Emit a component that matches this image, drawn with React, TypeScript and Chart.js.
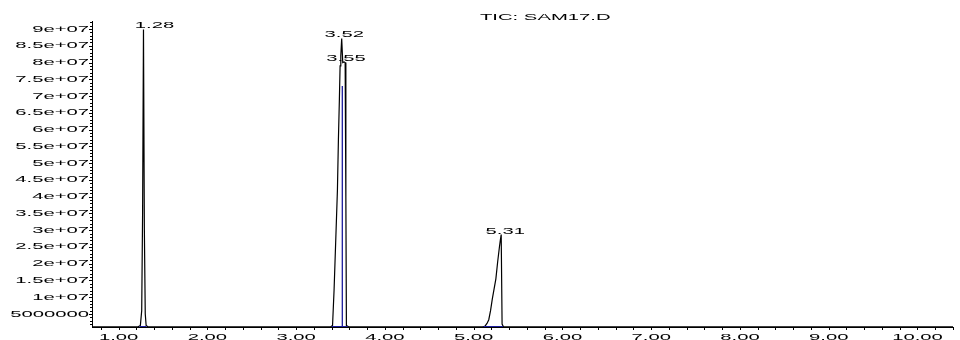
import React, { useEffect, useRef } from "react";
import { Chart, registerables } from "chart.js";

Chart.register(...registerables);

// ---- data ----
const rtMinutes = [0.7, 1.22, 1.245, 1.26, 1.27, 1.28, 1.29, 1.3, 1.31, 1.33, 3.39, 3.41, 3.427, 3.446, 3.465, 3.476, 3.487, 3.495, 3.503, 3.513, 3.525, 3.54, 3.552, 3.56, 3.566, 3.59, 5.1, 5.125, 5.15, 5.17, 5.19, 5.21, 5.23, 5.25, 5.27, 5.29, 5.3, 5.31, 5.32, 5.335, 10.4];
const abundance = [1.2e6, 1.2e6, 1.6e6, 6e6, 3.5e7, 8.99e7, 3.0e7, 5e6, 1.6e6, 1.2e6, 1.2e6, 1.6e6, 1.2e7, 2.7e7, 4.2e7, 5.7e7, 6.9e7, 7.9e7, 8.2e7, 8.72e7, 8.0e7, 8.02e7, 8.0e7, 4.0e7, 1.6e6, 1.2e6, 1.2e6, 1.3e6, 2.2e6, 3.3e6, 6e6, 9.5e6, 1.25e7, 1.55e7, 2.05e7, 2.5e7, 2.7e7, 2.87e7, 2.0e6, 1.2e6, 1.2e6];

// integration marks (blue)
const integTimes = [1.235, 1.315, 1.315, 3.4, 3.58, 3.58, 3.52, 3.52, 3.52, 5.11, 5.33];
const integAbund = [1.2e6, 1.2e6, null, 1.2e6, 1.2e6, null, 1.2e6, 7.3e7, null, 1.2e6, 1.2e6];

const peakTimes = [1.28, 3.52, 3.55, 5.31];
const peakHeights = [8.99e7, 8.72e7, 8.02e7, 2.87e7];
const peakLabels = ["1.28", "3.52", "3.55", "5.31"];

const xTickValues = [1, 2, 3, 4, 5, 6, 7, 8, 9, 10];
const xTickLabels = ["1.00", "2.00", "3.00", "4.00", "5.00", "6.00", "7.00", "8.00", "9.00", "10.00"];
const yTickValues = [5e6, 1e7, 1.5e7, 2e7, 2.5e7, 3e7, 3.5e7, 4e7, 4.5e7, 5e7, 5.5e7, 6e7, 6.5e7, 7e7, 7.5e7, 8e7, 8.5e7, 9e7];
const yTickLabels = ["5000000", "1e+07", "1.5e+07", "2e+07", "2.5e+07", "3e+07", "3.5e+07", "4e+07", "4.5e+07", "5e+07", "5.5e+07", "6e+07", "6.5e+07", "7e+07", "7.5e+07", "8e+07", "8.5e+07", "9e+07"];
const titleText = "TIC: SAM17.D";

// ---- styling ----
const FONT = "9px 'Liberation Sans', Arial, sans-serif";
const SX = 2.25;
const peakLabelOffsets = [11, 2, 1, 4];

function stretchText(ctx: CanvasRenderingContext2D, txt: string, x: number, y: number, align: CanvasTextAlign, baseline: CanvasTextBaseline) {
  ctx.save();
  ctx.translate(x, y);
  ctx.scale(SX, 1);
  ctx.font = FONT;
  ctx.fillStyle = "#000";
  ctx.textAlign = align;
  ctx.textBaseline = baseline;
  ctx.fillText(txt, 0, 0);
  ctx.restore();
}

const decorPlugin = {
  id: "decor",
  afterDraw(chart: any) {
    const ctx: CanvasRenderingContext2D = chart.ctx;
    const xs = chart.scales.x;
    const ys = chart.scales.y;
    const area = chart.chartArea;
    ctx.save();
    ctx.strokeStyle = "#000";
    ctx.lineWidth = 1;
    ctx.beginPath();
    // y minor ticks
    for (let v = 2e6; v <= 9.2e7; v += 1e6) {
      const py = Math.round(ys.getPixelForValue(v)) + 0.5;
      const len = Math.abs(v % 5e6) < 1 ? 3 : 2;
      ctx.moveTo(area.left - len, py);
      ctx.lineTo(area.left, py);
    }
    // x minor ticks
    for (let i = 4; i <= 52; i++) {
      const v = i * 0.2;
      const px = Math.round(xs.getPixelForValue(v)) + 0.5;
      ctx.moveTo(px, area.bottom);
      ctx.lineTo(px, area.bottom + 3);
    }
    ctx.stroke();
    ctx.restore();

    yTickValues.forEach((v, i) => {
      stretchText(ctx, yTickLabels[i], area.left - 3, ys.getPixelForValue(v), "right", "middle");
    });
    xTickValues.forEach((v, i) => {
      stretchText(ctx, xTickLabels[i], xs.getPixelForValue(v), 340, "center", "alphabetic");
    });
    peakTimes.forEach((t, i) => {
      stretchText(ctx, peakLabels[i], xs.getPixelForValue(t) + peakLabelOffsets[i], ys.getPixelForValue(peakHeights[i]) - 1, "center", "alphabetic");
    });
    stretchText(ctx, titleText, 480, 20, "left", "alphabetic");
  },
};

export default function App() {
  const ref = useRef<HTMLCanvasElement | null>(null);
  useEffect(() => {
    document.body.style.margin = "0";
    const canvas = ref.current;
    if (!canvas) return;
    const trace = rtMinutes.map((t, i) => ({ x: t, y: abundance[i] }));
    const integ = integTimes.map((t, i) => ({ x: t, y: integAbund[i] }));
    const chart = new Chart(canvas, {
      type: "line",
      data: {
        datasets: [
          {
            label: "integration",
            data: integ as any,
            borderColor: "#1c1c9c",
            borderWidth: 1.3,
            pointRadius: 0,
            spanGaps: false,
            tension: 0,
          },
          {
            label: "TIC",
            data: trace,
            borderColor: "#000",
            borderWidth: 1.2,
            pointRadius: 0,
            tension: 0,
          },
        ],
      },
      options: {
        responsive: false,
        animation: false,
        events: [],
        layout: { padding: { left: 0, right: 7, top: 21, bottom: 0 } },
        plugins: { legend: { display: false }, tooltip: { enabled: false }, title: { display: false } },
        scales: {
          x: {
            type: "linear",
            min: 0.7,
            max: 10.4,
            grid: { display: false },
            border: { display: true, color: "#000", width: 1 },
            ticks: { display: false },
            afterFit: (s: any) => {
              s.height = 13;
            },
          },
          y: {
            type: "linear",
            min: 1.13e6,
            max: 9.24e7,
            grid: { display: false },
            border: { display: true, color: "#000", width: 1 },
            ticks: { display: false },
            afterFit: (s: any) => {
              s.width = 92;
            },
          },
        },
      },
      plugins: [decorPlugin],
    });
    return () => chart.destroy();
  }, []);
  return (
    <div style={{ position: "absolute", left: 0, top: 0, width: 960, height: 340, background: "#fff" }}>
      <canvas ref={ref} width={960} height={340} />
    </div>
  );
}
